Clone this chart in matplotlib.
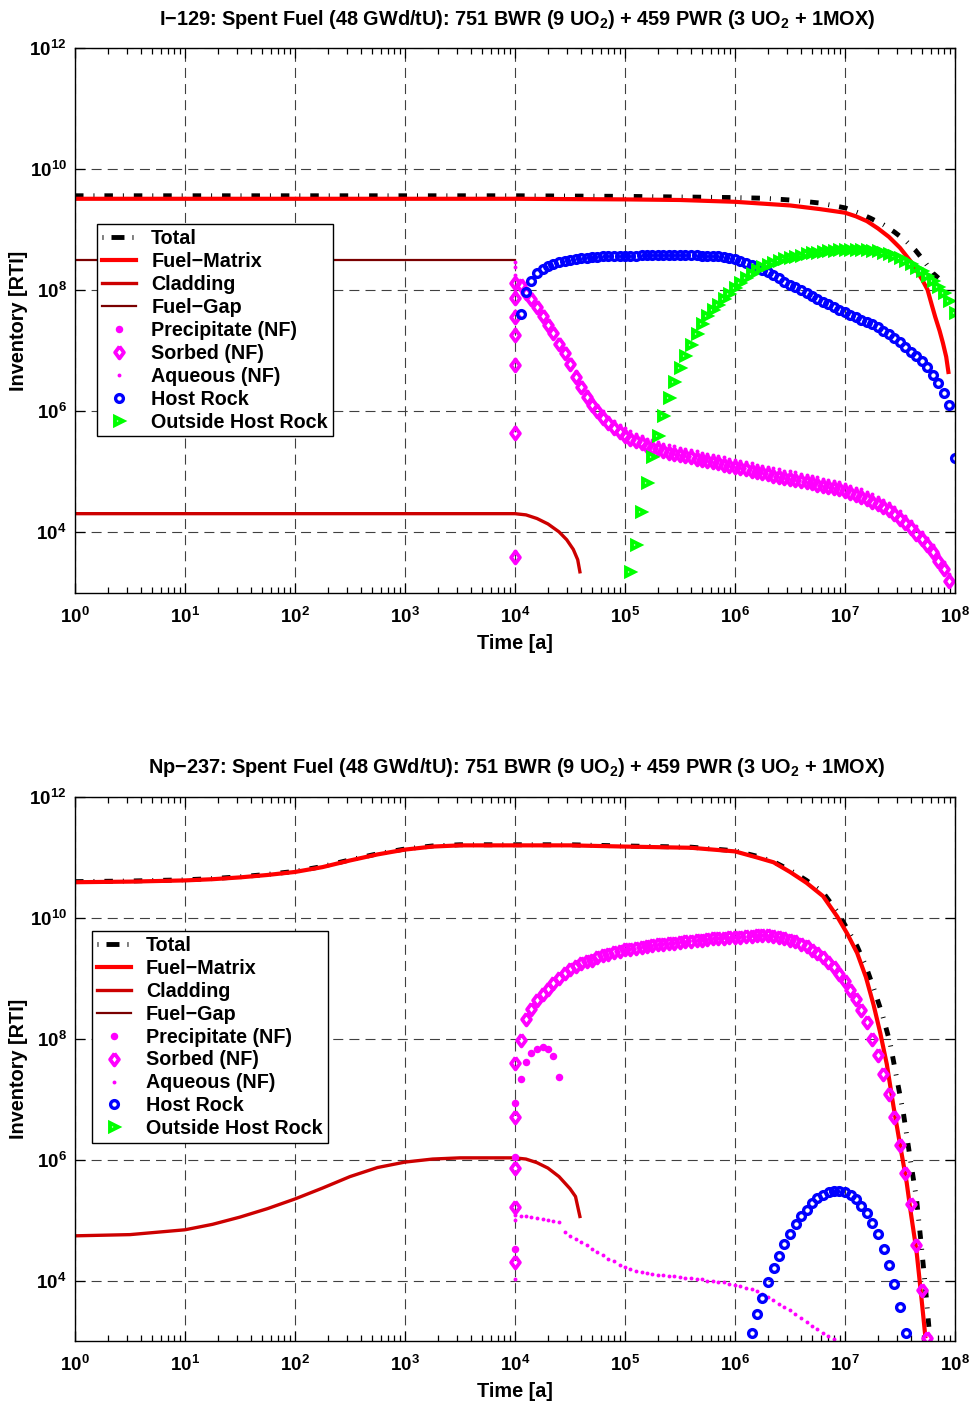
import numpy as np
import matplotlib
matplotlib.use("Agg")
import matplotlib.pyplot as plt
from matplotlib.ticker import FixedLocator, NullLocator, NullFormatter
from matplotlib.lines import Line2D

plt.rcParams['font.family'] = ['Liberation Sans', 'DejaVu Sans']
plt.rcParams['font.weight'] = 'bold'
plt.rcParams['mathtext.fontset'] = 'custom'
plt.rcParams['mathtext.rm'] = 'Liberation Sans:bold'
plt.rcParams['mathtext.bf'] = 'Liberation Sans:bold'
plt.rcParams['mathtext.it'] = 'Liberation Sans:bold'
plt.rcParams['mathtext.default'] = 'bf'

# ---------------------------------------------------------------- data
# all values are log10(inventory [RTI]); times are log10(t [a])
STEP = 0.05          # output sampling of the model (20 per decade)
RELEASE_T = 1.0e4    # container failure time: several outputs stacked here

labels = ['Total', 'Fuel\u2212Matrix', 'Cladding', 'Fuel\u2212Gap', 'Precipitate (NF)',
          'Sorbed (NF)', 'Aqueous (NF)', 'Host Rock', 'Outside Host Rock']

titles = ['I\u2212129: Spent Fuel (48 GWd/tU): 751 BWR (9 UO$_2$) + 459 PWR (3 UO$_2$ + 1MOX)',
          'Np\u2212237: Spent Fuel (48 GWd/tU): 751 BWR (9 UO$_2$) + 459 PWR (3 UO$_2$ + 1MOX)']

# ---- I-129 (top)
i_total_lt = [0, 4, 5, 6, 6.25, 6.5, 6.77, 7.0, 7.12, 7.23, 7.35, 7.45, 7.55, 7.64, 7.72, 7.8, 7.85]
i_total = [9.56, 9.56, 9.55, 9.53, 9.52, 9.49, 9.44, 9.36, 9.28, 9.19, 9.08, 8.96, 8.82, 8.66, 8.48, 8.28, 8.20]
i_fm_lt = [0, 4, 5, 5.5, 6.0, 6.25, 6.5, 6.77, 7.0, 7.1, 7.2, 7.3, 7.4, 7.5, 7.6, 7.7,
           7.75, 7.79, 7.82, 7.86, 7.89, 7.92, 7.94]
i_fm = [9.51, 9.51, 9.50, 9.49, 9.46, 9.43, 9.40, 9.34, 9.28, 9.22, 9.14, 9.02, 8.88, 8.70, 8.47, 8.18,
        8.01, 7.75, 7.56, 7.33, 7.13, 6.90, 6.65]
i_clad_lt = [0, 4, 4.1, 4.2, 4.3, 4.4, 4.47, 4.53, 4.57, 4.59]
i_clad = [4.31, 4.31, 4.29, 4.23, 4.14, 4.01, 3.88, 3.72, 3.55, 3.35]
i_gap_lt = [0, 4]
i_gap = [8.50, 8.50]

i_sorb_rel = [3.60, 5.64, 6.76, 7.26, 7.56, 7.87, 8.12]
i_sorb_t0 = 4.05
i_sorb = [8.08, 7.95, 7.85, 7.73, 7.57, 7.43, 7.30, 7.12, 6.96, 6.78,
          6.57, 6.40, 6.24, 6.10, 6.00, 5.89, 5.80, 5.72, 5.66, 5.60,
          5.55, 5.51, 5.47, 5.43, 5.40, 5.37, 5.34, 5.32, 5.30, 5.28,
          5.26, 5.24, 5.22, 5.20, 5.18, 5.16, 5.14, 5.12, 5.10, 5.08,
          5.06, 5.04, 5.02, 5.00, 4.98, 4.96, 4.94, 4.92, 4.90, 4.89,
          4.87, 4.85, 4.83, 4.81, 4.79, 4.77, 4.75, 4.73, 4.71, 4.68,
          4.65, 4.62, 4.59, 4.55, 4.51, 4.47, 4.42, 4.37, 4.30, 4.23,
          4.15, 4.07, 3.98, 3.89, 3.79, 3.67, 3.53, 3.39, 3.20]

i_aq_rel = [3.70, 5.74, 6.86, 7.36, 7.66, 7.97, 8.25, 8.39, 8.47]
i_aq_t0 = 4.05
i_aq = [8.16, 8.03, 7.93, 7.81, 7.65, 7.51, 7.38, 7.20, 7.04, 6.86,
        6.66, 6.49, 6.33, 6.20, 6.10, 6.00, 5.91, 5.84, 5.78, 5.72,
        5.67, 5.63, 5.59, 5.55, 5.52, 5.49, 5.46, 5.44, 5.42, 5.40,
        5.38, 5.36, 5.34, 5.32, 5.30, 5.28, 5.26, 5.24, 5.22, 5.20,
        5.18, 5.16, 5.14, 5.12, 5.10, 5.08, 5.06, 5.04, 5.02, 5.01,
        4.99, 4.97, 4.95, 4.93, 4.91, 4.89, 4.87, 4.85, 4.83, 4.80,
        4.77, 4.74, 4.71, 4.67, 4.63, 4.59, 4.54, 4.49, 4.42, 4.35,
        4.27, 4.19, 4.10, 4.01, 3.91, 3.79, 3.65, 3.51, 3.32]

i_host_t0 = 4.05
i_host = [7.61, 7.97, 8.16, 8.28, 8.35, 8.40, 8.43, 8.46, 8.48, 8.50,
          8.52, 8.53, 8.54, 8.55, 8.55, 8.56, 8.56, 8.56, 8.57, 8.57,
          8.57, 8.57, 8.58, 8.58, 8.58, 8.58, 8.58, 8.58, 8.58, 8.58,
          8.58, 8.58, 8.58, 8.57, 8.57, 8.57, 8.56, 8.55, 8.53, 8.51,
          8.48, 8.45, 8.42, 8.39, 8.34, 8.30, 8.25, 8.20, 8.14, 8.09,
          8.05, 8.00, 7.96, 7.91, 7.86, 7.81, 7.77, 7.72, 7.68, 7.64,
          7.59, 7.55, 7.51, 7.48, 7.44, 7.39, 7.33, 7.27, 7.21, 7.14,
          7.06, 6.98, 6.91, 6.83, 6.73, 6.60, 6.46, 6.31, 6.11, 5.23]

i_out_t0 = 5.05
i_out = [3.34, 3.80, 4.33, 4.81, 5.24, 5.60, 5.93, 6.22, 6.49, 6.72,
         6.92, 7.10, 7.28, 7.44, 7.57, 7.67, 7.76, 7.85, 7.94, 8.03,
         8.12, 8.20, 8.27, 8.34, 8.38, 8.42, 8.45, 8.48, 8.51, 8.53,
         8.55, 8.57, 8.59, 8.61, 8.62, 8.63, 8.64, 8.65, 8.66, 8.66,
         8.67, 8.67, 8.67, 8.66, 8.65, 8.64, 8.62, 8.60, 8.57, 8.53,
         8.49, 8.43, 8.37, 8.31, 8.24, 8.16, 8.06, 7.95, 7.83, 7.63]

# ---- Np-237 (bottom)
n_total_lt = [0, 0.5, 1, 1.25, 1.5, 1.75, 2, 2.25, 2.5, 2.75, 3, 3.25, 3.5, 4, 4.5, 5, 5.6,
              6, 6.2, 6.35, 6.5, 6.65, 6.8, 6.93, 7.02, 7.11, 7.19, 7.26, 7.34, 7.41,
              7.47, 7.53, 7.59, 7.65, 7.69, 7.73, 7.77]
n_total = [10.60, 10.61, 10.63, 10.65, 10.68, 10.72, 10.77, 10.85, 10.96, 11.06, 11.14, 11.19,
           11.21, 11.21, 11.21, 11.19, 11.17,
           11.11, 11.02, 10.93, 10.79, 10.62, 10.42, 10.10, 9.82, 9.53, 9.20, 8.84, 8.40, 7.93,
           7.35, 6.78, 6.05, 5.35, 4.65, 3.91, 3.08]
n_fm_lt = [0, 0.5, 1, 1.25, 1.5, 1.75, 2, 2.25, 2.5, 2.75, 3, 3.25, 3.5, 4, 4.5, 5, 5.6,
           6, 6.2, 6.35, 6.5, 6.65, 6.8, 6.93, 7.02, 7.11, 7.19, 7.26, 7.32, 7.38,
           7.44, 7.5, 7.56, 7.6, 7.65, 7.69, 7.73]
n_fm = [10.59, 10.60, 10.62, 10.64, 10.67, 10.71, 10.76, 10.84, 10.95, 11.05, 11.13, 11.18,
        11.20, 11.20, 11.20, 11.18, 11.16,
        11.10, 11.00, 10.92, 10.76, 10.58, 10.36, 10.02, 9.74, 9.42, 9.02, 8.56, 8.10, 7.58,
        6.89, 6.25, 5.63, 5.10, 4.49, 3.80, 3.08]
n_clad_lt = [0, 0.5, 1, 1.25, 1.5, 1.75, 2, 2.25, 2.5, 2.75, 3, 3.25, 3.5, 4,
             4.1, 4.2, 4.3, 4.4, 4.5, 4.55, 4.59]
n_clad = [4.74, 4.76, 4.84, 4.93, 5.05, 5.19, 5.35, 5.53, 5.72, 5.87, 5.96, 6.01, 6.03, 6.03,
          6.01, 5.95, 5.86, 5.72, 5.52, 5.39, 5.06]

n_prec_rel = [4.53, 6.05, 6.94]
n_prec_t0 = 4.05
n_prec = [7.34, 7.62, 7.77, 7.83, 7.87, 7.83, 7.72, 7.36]

n_sorb_rel = [4.30, 5.22, 5.87, 6.70, 7.60]
n_sorb_t0 = 4.05
n_sorb = [7.98, 8.32, 8.50, 8.64, 8.74, 8.83, 8.93, 9.01, 9.08, 9.15,
          9.20, 9.25, 9.28, 9.31, 9.35, 9.38, 9.41, 9.43, 9.46, 9.48,
          9.49, 9.51, 9.52, 9.54, 9.55, 9.56, 9.57, 9.58, 9.59, 9.60,
          9.61, 9.62, 9.63, 9.64, 9.65, 9.66, 9.66, 9.67, 9.68, 9.69,
          9.69, 9.70, 9.70, 9.71, 9.71, 9.71, 9.70, 9.69, 9.67, 9.64,
          9.61, 9.57, 9.53, 9.47, 9.42, 9.36, 9.27, 9.18, 9.07, 8.95,
          8.81, 8.66, 8.48, 8.27, 8.00, 7.73, 7.42, 7.08, 6.70, 6.25,
          5.78, 5.26, 4.58, 3.85, 3.05]

n_aq_rel = [4.02, 5.00, 5.08]
n_aq_t0 = 4.05
n_aq = [5.07, 5.06, 5.05, 5.04, 5.02, 5.01, 4.99, 4.97, 4.81, 4.74,
        4.69, 4.63, 4.58, 4.53, 4.47, 4.42, 4.36, 4.32, 4.26, 4.22,
        4.19, 4.16, 4.14, 4.12, 4.11, 4.10, 4.09, 4.08, 4.07, 4.06,
        4.05, 4.04, 4.03, 4.02, 4.00, 3.99, 3.98, 3.97, 3.95, 3.93,
        3.91, 3.88, 3.86, 3.83, 3.78, 3.73, 3.68, 3.62, 3.57, 3.51,
        3.44, 3.38, 3.31, 3.25, 3.20, 3.14, 3.08, 3.03]

n_host_t0 = 6.15
n_host = [3.14, 3.44, 3.71, 3.97, 4.20, 4.41, 4.60, 4.77, 4.93, 5.06,
          5.17, 5.28, 5.36, 5.42, 5.46, 5.48, 5.48, 5.46, 5.42, 5.35,
          5.23, 5.12, 4.96, 4.77, 4.53, 4.26, 3.94, 3.57, 3.14]

xtick_exp = [0, 1, 2, 3, 4, 5, 6, 7, 8]
ytick_exp = [4, 6, 8, 10, 12]

# ---------------------------------------------------------------- helpers
def p10(a):
    return 10.0 ** np.asarray(a, dtype=float)

def sampled(t0, vals, rel=None):
    t = p10(t0 + STEP * np.arange(len(vals)))
    v = p10(vals)
    if rel:
        t = np.concatenate([np.full(len(rel), RELEASE_T), t])
        v = np.concatenate([p10(rel), v])
    return t, v

MAG = '#FF00FF'
BLUE = '#0000FF'
GREEN = '#00FF00'
TOTAL_LS = (0, (1.75, 2.05, 0.2, 2.05))
TOTAL_LEG_LS = (0, (0.2, 1.65, 2.67, 1.65, 0.2, 3.0))
DIAMOND = [(0, 1), (0.74, 0), (0, -1), (-0.74, 0), (0, 1)]

styles = {
    'total': dict(color='k', lw=3.5, ls=TOTAL_LS, dash_capstyle='butt'),
    'fm': dict(color='#FF0000', lw=3.0, ls='-'),
    'clad': dict(color='#CC0000', lw=2.4, ls='-'),
    'gap': dict(color='#7A0000', lw=1.6, ls='-'),
    'prec': dict(ls='none', marker='o', ms=5.4, mfc=MAG, mec=MAG, mew=0),
    'sorb': dict(ls='none', marker=DIAMOND, ms=8.6, mfc='none', mec=MAG, mew=2.7),
    'aq': dict(ls='none', marker='o', ms=2.8, mfc=MAG, mec=MAG, mew=0),
    'host': dict(ls='none', marker='o', ms=5.6, mfc='none', mec=BLUE, mew=2.4),
    'out': dict(ls='none', marker='>', ms=6.2, mfc='none', mec=GREEN, mew=2.8),
}
order = ['total', 'fm', 'clad', 'gap', 'prec', 'sorb', 'aq', 'host', 'out']

fig = plt.figure(figsize=(9.70, 14.04), dpi=100)
W, H = 970.0, 1404.0
ax_top = fig.add_axes([75 / W, 1 - 593 / H, 880 / W, 545 / H])
ax_bot = fig.add_axes([75 / W, 1 - 1341 / H, 880 / W, 544 / H])

def style_axes(ax):
    ax.set_xscale('log')
    ax.set_yscale('log')
    ax.set_xlim(1, 1e8)
    ax.set_ylim(1e3, 1e12)
    ax.xaxis.set_major_locator(FixedLocator(p10(xtick_exp)))
    ax.set_xticklabels([r'$\mathbf{10^{%d}}$' % e for e in xtick_exp])
    minors = [m * 10.0 ** e for e in xtick_exp[:-1] for m in range(2, 10)]
    ax.xaxis.set_minor_locator(FixedLocator(minors))
    ax.xaxis.set_minor_formatter(NullFormatter())
    ax.yaxis.set_major_locator(FixedLocator(p10(ytick_exp)))
    ax.set_yticklabels([r'$\mathbf{10^{%d}}$' % e for e in ytick_exp])
    ax.yaxis.set_minor_locator(NullLocator())
    ax.tick_params(which='both', direction='in', top=True, right=True, labelsize=13.5, width=0.9)
    ax.tick_params(which='major', length=7, pad=6)
    ax.tick_params(axis='x', which='major', pad=10)
    ax.tick_params(which='minor', length=4)
    ax.grid(True, which='major', color='0.25', lw=0.8, ls=(0, (9, 5.5)))
    ax.set_axisbelow(True)
    for s in ax.spines.values():
        s.set_linewidth(1.0)
    ax.set_xlabel('Time [a]', fontsize=14.3, fontweight='bold', labelpad=5)
    ax.set_ylabel('Inventory [RTI]', fontsize=14.3, fontweight='bold', labelpad=1)

def draw(ax, series, leg_anchor):
    style_axes(ax)
    handles = []
    for key, lab in zip(order, labels):
        st = styles[key]
        if key in series:
            t, v = series[key]
            h, = ax.plot(t, v, label=lab, **st)
        else:
            h, = ax.plot([], [], label=lab, **st)
        if key == 'total':
            h = Line2D([], [], color='k', lw=3.5, ls=TOTAL_LEG_LS, dash_capstyle='butt')
        handles.append(h)
    leg = ax.legend(handles=handles, labels=labels, loc='upper left', bbox_to_anchor=leg_anchor,
                    borderaxespad=0, fancybox=False, framealpha=1, edgecolor='k',
                    prop=dict(size=14.2, weight='bold'), handlelength=1.75,
                    handletextpad=0.75, labelspacing=0.2, borderpad=0.25, numpoints=1)
    leg.get_frame().set_linewidth(1.0)

top_series = {
    'total': (p10(i_total_lt), p10(i_total)),
    'fm': (p10(i_fm_lt), p10(i_fm)),
    'clad': (p10(i_clad_lt), p10(i_clad)),
    'gap': (p10(i_gap_lt), p10(i_gap)),
    'sorb': sampled(i_sorb_t0, i_sorb, i_sorb_rel),
    'aq': sampled(i_aq_t0, i_aq, i_aq_rel),
    'host': sampled(i_host_t0, i_host),
    'out': sampled(i_out_t0, i_out),
}
bot_series = {
    'total': (p10(n_total_lt), p10(n_total)),
    'fm': (p10(n_fm_lt), p10(n_fm)),
    'clad': (p10(n_clad_lt), p10(n_clad)),
    'prec': sampled(n_prec_t0, n_prec, n_prec_rel),
    'sorb': sampled(n_sorb_t0, n_sorb, n_sorb_rel),
    'aq': sampled(n_aq_t0, n_aq, n_aq_rel),
    'host': sampled(n_host_t0, n_host),
}

draw(ax_top, top_series, (0.025, 0.677))
draw(ax_bot, bot_series, (0.019, 0.754))

fig.text(517 / W, 1 - 25 / H, titles[0], ha='center', va='baseline', fontsize=14.3, fontweight='bold')
fig.text(517 / W, 1 - 773 / H, titles[1], ha='center', va='baseline', fontsize=14.3, fontweight='bold')

fig.savefig('out.png', dpi=100)
